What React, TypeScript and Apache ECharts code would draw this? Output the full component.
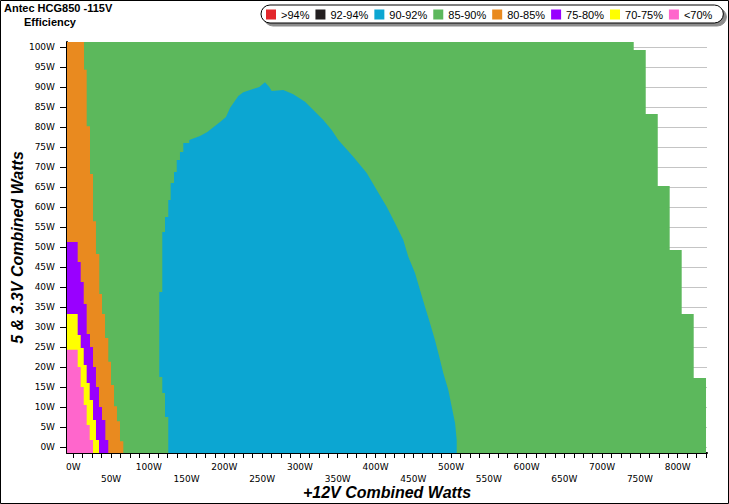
import React, { useEffect, useRef } from 'react';
import * as echarts from 'echarts';

// ---- legend / categories ----
const legendNames = ['>94%', '92-94%', '90-92%', '85-90%', '80-85%', '75-80%', '70-75%', '<70%'];
const legendColors = ['#E3262B', '#231F20', '#0CA6D2', '#5CB85C', '#E98A1F', '#9900FF', '#FFFF00', '#FF66CC'];

// ---- tick labels ----
const xLabelValues = [0, 50, 100, 150, 200, 250, 300, 350, 400, 450, 500, 550, 600, 650, 700, 750, 800];
const yLabelValues = [0, 5, 10, 15, 20, 25, 30, 35, 40, 45, 50, 55, 60, 65, 70, 75, 80, 85, 90, 95, 100];

// ---- axis extents (W) ----
const X_MIN = -8.34;
const X_MAX = 838.8;
const Y_MIN = -1.425;
const Y_MAX = 101.325;

// ---- region edges: [yTop (W, +5&3.3V), xEdge (W, +12V)] from top to bottom ----
const greenEdge: [number, number][] = [
  [101.325, 741.8], [99.3, 757.7], [83.3, 773.6], [65.3, 789.4], [49.3, 805.3], [33.3, 821.2], [17.3, 837.5],
];
const orangeEdge: [number, number][] = [
  [101.325, 14.2], [94.4, 17.7], [80.25, 22.1], [68.3, 26.1], [56.5, 30.0], [48.3, 34.4], [38.3, 38.0],
  [33.3, 42.0], [27.3, 46.3], [21.4, 49.9], [15.6, 53.9], [10.25, 57.8], [6.5, 61.8], [1.5, 66.2],
];
const purpleEdge: [number, number][] = [
  [51.3, 5.8], [46.3, 9.8], [41.3, 13.8], [35.8, 17.7], [28.3, 22.1], [25.1, 26.1], [20.1, 30.0],
  [15.1, 34.0], [10.1, 38.0], [6.8, 42.4], [1.8, 46.3],
];
const yellowEdge: [number, number][] = [
  [33.3, 5.8], [28.1, 9.8], [24.8, 13.8], [20.6, 17.7], [16.1, 21.7], [11.8, 26.1], [6.8, 30.0], [1.8, 34.0],
];
const pinkEdge: [number, number][] = [
  [24.4, 5.8], [20.1, 9.8], [15.1, 13.8], [10.6, 17.7], [5.6, 21.7], [1.8, 26.1],
];
// ---- 90-92% island outline: [x (W), y (W)] ----
const blueOutline: [number, number][] = [
  [125.7, -1.425], [125.7, 7.6], [121.4, 7.6], [121.4, 13.6], [117.8, 13.6], [117.8, 17.6], [113.8, 17.6],
  [113.8, 38.8], [117.8, 38.8], [117.8, 53.8], [121.4, 53.8], [121.4, 57.6], [125.7, 57.6], [125.7, 61.8],
  [128.9, 61.8], [128.9, 66.1], [133.3, 66.1], [133.3, 68.8], [136.9, 68.8], [136.9, 71.8], [141.2, 71.8],
  [141.2, 73.8], [145.6, 73.8], [145.6, 76.1], [153.5, 76.1], [153.5, 76.8], [167.7, 77.8], [177.4, 78.8],
  [194.2, 81.3], [202.1, 82.6], [207.4, 84.8], [218.4, 87.8], [225.0, 88.75], [246.2, 90.1], [253.7, 91.25],
  [259.4, 90.1], [262.6, 89.1], [278.0, 89.3], [291.2, 88.25], [306.7, 86.4], [317.7, 84.3], [330.9, 81.8],
  [342.0, 79.3], [350.8, 76.8], [370.6, 72.65], [388.4, 68.6], [401.6, 64.3], [414.8, 60.15], [425.8, 56.1],
  [436.8, 51.8], [443.4, 47.65], [452.3, 43.6], [458.9, 39.3], [465.5, 35.15], [472.1, 31.1], [478.7, 26.8],
  [484.4, 22.65], [489.7, 18.6], [496.4, 14.3], [500.9, 10.15], [505.3, 6.1], [507.5, 1.8], [507.5, -1.425],
];

function stairPolygon(steps: [number, number][]): [number, number][] {
  const pts: [number, number][] = [[X_MIN, steps[0][0]]];
  steps.forEach((s, i) => {
    const yBottom = i + 1 < steps.length ? steps[i + 1][0] : Y_MIN;
    pts.push([s[1], s[0]]);
    pts.push([s[1], yBottom]);
  });
  pts.push([X_MIN, Y_MIN]);
  return pts;
}

const minorX: number[] = [];
for (let v = 0; v <= 837.5; v += 12.5) minorX.push(v);
const minorY: number[] = [];
for (let v = 0; v <= 101; v += 1) minorY.push(v);

const labelFont = { fontFamily: 'DejaVu Sans', fontSize: 9, color: '#000' };

export default function App() {
  const ref = useRef<HTMLDivElement>(null);
  useEffect(() => {
    if (!ref.current) return;
    const chart = echarts.init(ref.current, null, { renderer: 'svg' });

    const regionSeries = (name: string, poly: [number, number][]) => {
      const color = legendColors[legendNames.indexOf(name)];
      return {
        type: 'custom',
        name,
        silent: true,
        coordinateSystem: 'cartesian2d',
        xAxisIndex: 0,
        yAxisIndex: 0,
        itemStyle: { color },
        data: [[0, 0]],
        renderItem: (params: any, api: any) => {
          if (params.dataIndex !== 0) return null;
          const pts = poly.map((p) => api.coord(p));
          return { type: 'polygon', shape: { points: pts }, style: { fill: color, stroke: null } };
        },
      };
    };
    const emptySeries = (name: string) => ({
      type: 'custom',
      name,
      coordinateSystem: 'cartesian2d',
      itemStyle: { color: legendColors[legendNames.indexOf(name)] },
      data: [],
      renderItem: () => null,
    });

    chart.setOption({
      animation: false,
      backgroundColor: '#fff',
      title: [
        { text: 'Antec HCG850 -115V', left: 4, top: 2, padding: 0,
          textStyle: { fontSize: 11, fontWeight: 'bold', fontFamily: 'Liberation Sans', color: '#000' } },
        { text: 'Efficiency', left: 24, top: 16, padding: 0,
          textStyle: { fontSize: 11, fontWeight: 'bold', fontFamily: 'Liberation Sans', color: '#000' } },
      ],
      legend: {
        data: legendNames,
        left: 261,
        top: 5,
        icon: 'rect',
        itemWidth: 10,
        itemHeight: 10,
        itemGap: 6,
        padding: [4, 11, 3, 5],
        backgroundColor: '#fff',
        borderColor: '#000',
        borderWidth: 1,
        borderRadius: 10,
        shadowColor: 'rgba(0,0,0,0.45)',
        shadowOffsetX: 3,
        shadowOffsetY: 3,
        shadowBlur: 1,
        selectedMode: false,
        textStyle: { fontSize: 11, fontFamily: 'Liberation Sans', color: '#000' },
      },
      grid: { left: 67, right: 22, top: 42, bottom: 51, outerBoundsMode: 'none', containLabel: false },
      xAxis: [
        {
          type: 'value',
          min: X_MIN,
          max: X_MAX,
          name: '+12V Combined Watts',
          nameLocation: 'middle',
          nameGap: 31,
          nameMoveOverlap: false,
          nameTextStyle: { fontSize: 16, fontWeight: 'bold', fontStyle: 'italic', fontFamily: 'Liberation Sans', color: '#000' },
          axisLine: { show: true, onZero: false, lineStyle: { color: '#000', width: 2 } },
          axisTick: { show: true, customValues: minorX, length: 5, lineStyle: { color: '#000', width: 1 } },
          axisLabel: {
            ...labelFont,
            customValues: xLabelValues,
            margin: 8,
            lineHeight: 12,
            formatter: (v: number) => (Math.round(v / 50) % 2 === 1 ? '\n' + v + 'W' : v + 'W'),
          },
          splitLine: { show: false },
        },
      ],
      yAxis: [
        {
          type: 'value',
          min: Y_MIN,
          max: Y_MAX,
          name: '5 & 3.3V Combined Watts',
          nameLocation: 'middle',
          nameGap: 42,
          nameMoveOverlap: false,
          nameTextStyle: { fontSize: 16, fontWeight: 'bold', fontStyle: 'italic', fontFamily: 'Liberation Sans', color: '#000' },
          axisLine: { show: true, onZero: false, lineStyle: { color: '#000', width: 2 } },
          axisTick: { show: true, customValues: yLabelValues, length: 7, lineStyle: { color: '#000', width: 1 } },
          axisLabel: { ...labelFont, customValues: yLabelValues, margin: 12, formatter: (v: number) => v + 'W' },
          splitLine: { show: true, lineStyle: { color: '#c4c4c4', width: 1 } },
        },
        {
          type: 'value',
          min: Y_MIN,
          max: Y_MAX,
          position: 'left',
          axisLine: { show: false },
          axisTick: { show: true, customValues: minorY, length: 4, lineStyle: { color: '#000', width: 1 } },
          axisLabel: { show: false },
          splitLine: { show: false },
        },
      ],
      graphic: [
        { type: 'rect', shape: { x: 0.5, y: 0.5, width: 728, height: 503 }, style: { fill: 'none', stroke: '#000', lineWidth: 1 }, silent: true },
      ],
      series: [
        emptySeries('>94%'),
        emptySeries('92-94%'),
        regionSeries('85-90%', stairPolygon(greenEdge)),
        regionSeries('90-92%', blueOutline),
        regionSeries('80-85%', stairPolygon(orangeEdge)),
        regionSeries('75-80%', stairPolygon(purpleEdge)),
        regionSeries('70-75%', stairPolygon(yellowEdge)),
        regionSeries('<70%', stairPolygon(pinkEdge)),
      ],
    });
    return () => chart.dispose();
  }, []);
  return <div ref={ref} style={{ position: 'absolute', left: 0, top: 0, width: 729, height: 504 }} />;
}
